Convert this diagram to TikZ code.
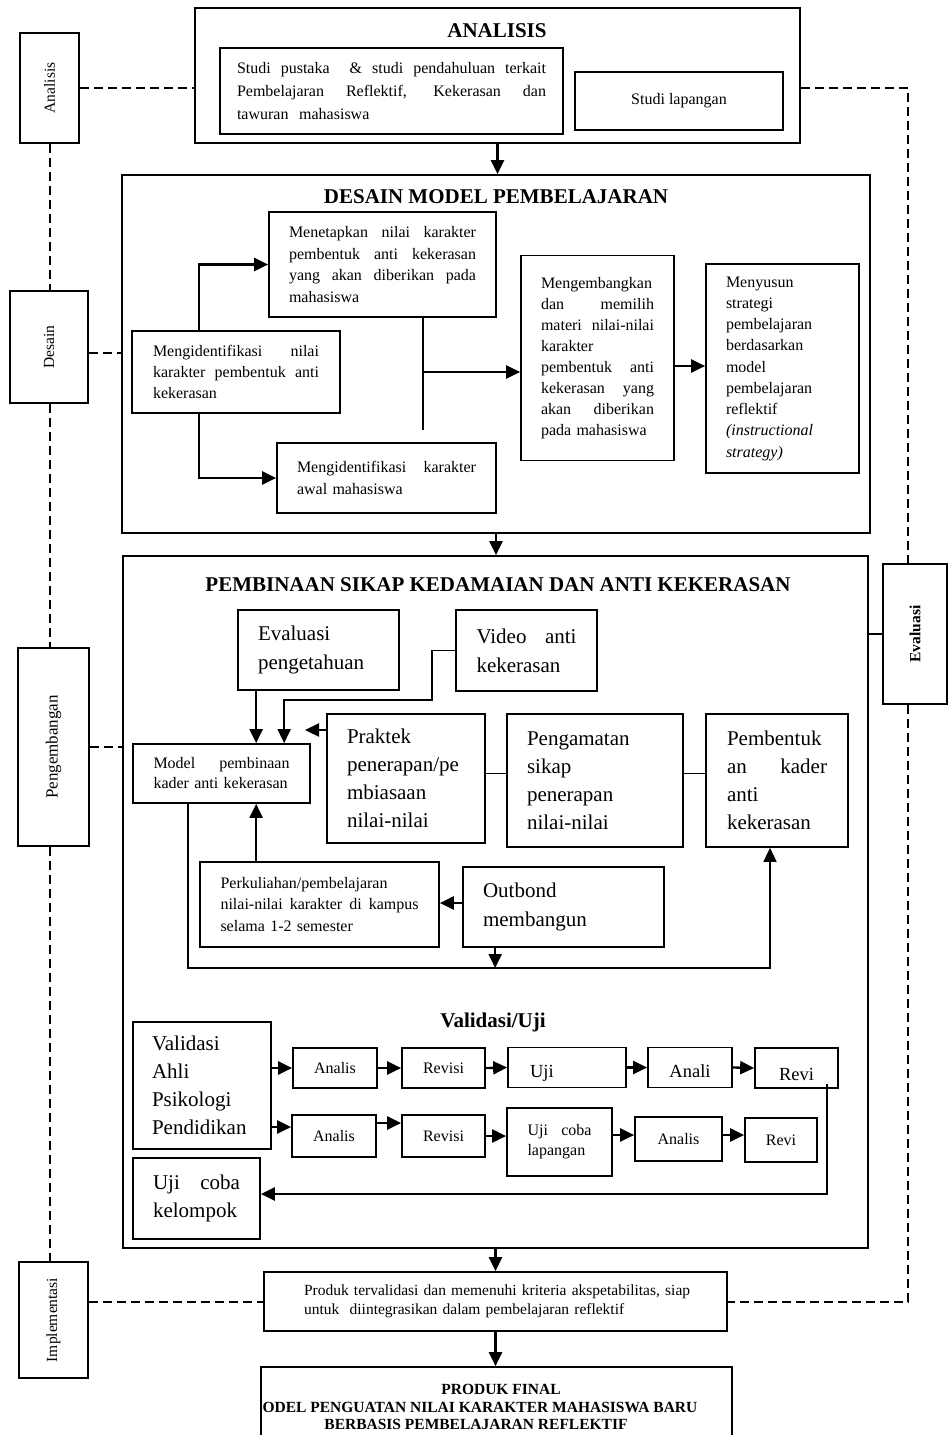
\documentclass[tikz,border=0pt]{standalone}
\usepackage{fontspec}
\setmainfont{Liberation Serif}
\usepackage{tikz}
\usetikzlibrary{
	positioning,
	arrows.meta
}

\newcommand{\jl}[1]{{\spaceskip=.25em plus 10em\relax\makebox[\hsize][s]{#1}}}
\newcommand{\fs}[2]{\fontsize{#1}{#2}\selectfont}

\tikzset{
	box/.style={draw, line width=1.7pt, rectangle, inner sep=0pt, align=left},
	cell/.style={box, font=\fs{16}{19}, align=center},
	side/.style={draw, line width=1.7pt, inner sep=0pt, font=\fs{15.5}{18}},
	sz/.style 2 args={minimum width=#1, minimum height=#2},
	head/.style={inner sep=0pt, font=\bfseries\fs{21}{25}},
	fbold/.style={inner sep=0pt, font=\bfseries\fs{15.5}{17}},
	arr/.style={line width=2.3pt, -{Triangle[length=14pt,width=13pt]}},
	arrT/.style={line width=1.7pt, -{Triangle[length=14pt,width=13pt]}},
	link/.style={line width=1.7pt},
	dashline/.style={line width=2pt, dash pattern=on 9pt off 5pt}
}

\begin{document}
\begin{tikzpicture}[x=1pt, y=-1pt]
		\fill[white] (0,0) rectangle (949,1435);
		\path[use as bounding box, clip] (0,0) rectangle (949,1435);

		% analisis
		\draw
			node[box, sz={605}{135}]                                  (ana)     at (497.5,75.5) {}
			node[head]                                                (anaT)    at (497,31)     {ANALISIS}
			node[box, font=\fs{16}{23}, sz={343}{86}, text width=309] (pustaka) at (391.5,91)
				{\jl{Studi pustaka \ \& studi pendahuluan terkait}\\ \jl{Pembelajaran Reflektif, Kekerasan dan}\\ tawuran \ mahasiswa}
			node[box, font=\fs{16}{21}, sz={208}{58}, align=center]   (lapang)  at (679,101)    {Studi lapangan}
		;

		% desain
		\draw
			node[box, sz={748}{358}]                                  (des)     at (496,354)    {}
			node[head]                                                (desT)    at (496,197)    {DESAIN MODEL PEMBELAJARAN}
			node[box, font=\fs{16}{21.5}, sz={227}{105}, text width=187] (tetap) at (382.5,264.5)
				{\jl{Menetapkan nilai karakter}\\ \jl{pembentuk anti kekerasan}\\ \jl{yang akan diberikan pada}\\ mahasiswa}
			node[box, font=\fs{16}{21}, sz={208}{82}, text width=166] (idn)     at (236,372)
				{\jl{Mengidentifikasi nilai}\\ \jl{karakter pembentuk anti}\\ kekerasan}
			node[box, font=\fs{16}{22}, sz={219}{70}, text width=179] (awal)    at (386.5,478)
				{\jl{Mengidentifikasi karakter}\\ awal mahasiswa}
			node[box, font=\fs{16}{21.1}, sz={153}{205}, text width=113] (kemb) at (597.5,358)
				{Mengembangkan\\ \jl{dan memilih}\\ \jl{materi nilai-nilai}\\ karakter\\ \jl{pembentuk anti}\\ \jl{kekerasan yang}\\ \jl{akan diberikan}\\ pada mahasiswa}
			node[box, font=\fs{16}{21.25}, sz={153}{209}, text width=113] (susun) at (782.5,368.5)
				{Menyusun\\ strategi\\ pembelajaran\\ berdasarkan\\ model\\ pembelajaran\\ reflektif\\ \textit{(instructional}\\ \textit{strategy)}}
		;
		\coordinate (fork) at (422,372);
		\draw[arr]  ([xshift=68pt]idn.north west) |- (tetap.west);
		\draw[arr]  ([xshift=68pt]idn.south west) |- (awal.west);
		\draw[link] ([xshift=-74pt]tetap.south east) -- ++(0,112);
		\draw[arr]  (fork) -- (fork -| kemb.west);
		\draw[arr]  ([yshift=-8pt]kemb.east) -- ([yshift=-8pt]kemb.east -| susun.west);

		% pembinaan
		\draw
			node[box, sz={745}{692}]                                  (pemb)    at (495.5,902)  {}
			node[head]                                                (pembT)   at (498,585)    {PEMBINAAN SIKAP KEDAMAIAN DAN ANTI KEKERASAN}
			node[box, font=\fs{21}{29}, sz={161}{80}, text width=121] (evalp)   at (318.5,650)  {Evaluasi\\ pengetahuan}
			node[box, font=\fs{21}{29}, sz={141}{81}, text width=100] (video)   at (526.5,650.5) {\jl{Video anti}\\ kekerasan}
			node[box, font=\fs{16}{20}, sz={177}{59}, text width=136] (model)   at (221.5,773.5) {\jl{Model pembinaan}\\ kader anti kekerasan}
			node[box, font=\fs{21}{28}, sz={158}{129}, text width=118] (praktek) at (406,778.5) {Praktek\\ penerapan/pe\\ mbiasaan\\ nilai-nilai}
			node[box, font=\fs{21}{28}, sz={176}{133}, text width=136] (amat)   at (595,780.5)  {Pengamatan\\ sikap\\ penerapan\\ nilai-nilai}
			node[box, font=\fs{21}{28}, sz={142}{133}, text width=100] (bentuk) at (777,780.5)  {Pembentuk\\ \jl{an kader}\\ anti\\ kekerasan}
			node[box, font=\fs{16}{21.5}, sz={239}{85}, text width=198] (kuliah) at (319.5,904.5)
				{Perkuliahan/pembelajaran\\ \jl{nilai-nilai karakter di kampus}\\ selama 1-2 semester}
			node[box, font=\fs{21}{29}, sz={201}{80}, text width=161] (outb)    at (563.5,907)  {Outbond\\ membangun}
		;
		\coordinate (vbend) at (432,700);
		\coordinate (ptip)  at (305,730);
		\coordinate (loopR) at (770,968);
		\draw[arr]  ([xshift=19pt]evalp.south west) -- ([xshift=19pt]evalp.south west |- model.north);
		\draw[arrT] (video.west) -| (vbend) -| ([xshift=152pt]model.north west);
		\draw[arr]  (ptip -| praktek.west) -- (ptip);
		\draw[link] ([yshift=5pt]praktek.east) -- ([yshift=5pt]praktek.east -| amat.west);
		\draw[link] ([yshift=7pt]amat.east) -- ([yshift=7pt]amat.east -| bentuk.west);
		\draw[arr]  ([xshift=57pt]kuliah.north west) -- ([xshift=57pt]kuliah.north west |- model.south);
		\draw[arr]  ([yshift=4pt]outb.west) -- ([yshift=4pt]outb.west -| kuliah.east);
		\draw[arrT] ([xshift=56pt]model.south west) |- (loopR) -- (loopR |- bentuk.south);
		\draw[arr]  ([xshift=33pt]outb.south west) -- ([xshift=33pt]outb.south west |- loopR);

		% validasi / uji
		\draw
			node[head]                                                (valT)    at (493,1022)   {Validasi/Uji}
			node[box, font=\fs{21}{28}, sz={138}{127}, text width=100] (ahli)   at (202,1085.5) {Validasi\\ Ahli\\ Psikologi\\ Pendidikan}
			node[cell, sz={84}{40}]                                   (an1)     at (335,1068)   {Analis}
			node[cell, sz={83}{40}]                                   (rv1)     at (443.5,1068) {Revisi}
			node[cell, font=\fs{18.5}{22}, sz={118}{40}, text width=74, align=left, text height=20pt, text depth=0pt] (uj1) at (567,1067.5) {Uji}
			node[cell, font=\fs{18.5}{22}, sz={84}{40}, text height=20pt, text depth=0pt]  (an1b) at (690,1067.5) {Anali}
			node[cell, font=\fs{18.5}{22}, sz={83}{40}, text height=24pt, text depth=0pt]  (rv1b) at (796.5,1068) {Revi}
			node[cell, sz={84}{42}]                                   (an2)     at (334,1136)   {Analis}
			node[cell, sz={83}{42}]                                   (rv2)     at (443.5,1136) {Revisi}
			node[cell, font=\fs{16}{20}, sz={105}{68}, text width=64, align=left] (uj2) at (559.5,1142) {\jl{Uji coba}\\ lapangan}
			node[cell, sz={87}{44}]                                   (an2b)    at (678.5,1139) {Analis}
			node[cell, sz={72}{44}]                                   (rv2b)    at (781,1140)   {Revi}
			node[box, font=\fs{21}{28}, sz={127}{81}, text width=87]  (kel)     at (196.5,1198.5) {\jl{Uji coba}\\ kelompok}
		;
		\draw[arr] (ahli.east |- an1.west) -- (an1.west);
		\draw[arr] (an1.east) -- (rv1.west);
		\draw[arr] (rv1.east) -- (uj1.west);
		\draw[arr] (uj1.east) -- (an1b.west);
		\draw[arr] (an1b.east) -- (rv1b.west);
		\draw[arr] ([yshift=9pt]ahli.east |- an2.west) -- ([yshift=9pt]an2.west);
		\draw[arr] ([yshift=13pt]an2.east) -- ([yshift=13pt]rv2.west);
		\draw[arr] (rv2.east) -- (rv2.east -| uj2.west);
		\draw[arr] ([yshift=4pt]uj2.east |- an2b.west) -- ([yshift=4pt]an2b.west);
		\draw[arr] ([yshift=4pt]an2b.east) -- ([yshift=4pt]an2b.east -| rv2b.west);
		\draw[arr] ([xshift=30.5pt,yshift=5pt]rv1b.south) |- ([yshift=4.5pt]kel.east);

		% produk
		\draw
			node[box, font=\fs{15.5}{19}, sz={463}{59}, text width=383] (prod)  at (495.5,1301.5)
				{\mbox{Produk tervalidasi dan memenuhi kriteria akspetabilitas, siap}\\ \mbox{untuk \ diintegrasikan dalam pembelajaran reflektif}}
			node[box, sz={471}{90}]                                   (fin)     at (496.5,1412) {}
			node[fbold]                                               (fin1)    at (501,1389)   {PRODUK FINAL}
			node[fbold]                                               (fin2)    at (480,1407)   {ODEL PENGUATAN NILAI KARAKTER MAHASISWA BARU}
			node[fbold]                                               (fin3)    at (476,1424)   {BERBASIS PEMBELAJARAN REFLEKTIF}
		;
		\draw[arr] (ana.south) -- (ana.south |- des.north);
		\draw[arr] (des.south) -- (des.south |- pemb.north);
		\draw[arr] (pemb.south) -- (pemb.south |- prod.north);
		\draw[arr] (prod.south) -- (prod.south |- fin.north);

		% tahapan
		\draw
			node[side, sz={59}{110}]                                  (anaL)    at (49.5,88)    {\rotatebox{90}{Analisis}}
			node[side, sz={78}{112}]                                  (desL)    at (49,347)     {\rotatebox{90}{Desain}}
			node[side, sz={71}{198}, font=\fs{17}{20}]                (pengL)   at (53.5,747)   {\rotatebox{90}{Pengembangan}}
			node[side, sz={69}{116}]                                  (impL)    at (53.5,1320)  {\rotatebox{90}{Implementasi}}
			node[side, sz={64}{140}, font=\bfseries\fs{15.5}{18}]     (evalR)   at (915,634)    {\rotatebox{90}{Evaluasi}}
		;
		\coordinate (rtop) at (908,88);
		\draw[dashline] (anaL.south) -- (anaL.south |- desL.north);
		\draw[dashline] (desL.south -| anaL.south) -- (anaL.south |- pengL.north);
		\draw[dashline] (pengL.south -| anaL.south) -- (anaL.south |- impL.north);
		\draw[dashline] (anaL.east) -- (anaL.east -| ana.west);
		\draw[dashline] ([yshift=-6pt]desL.east) -- ([yshift=-6pt]desL.east -| des.west);
		\draw[dashline] (pengL.east) -- (pengL.east -| pemb.west);
		\draw[dashline] (impL.east |- prod.west) -- (prod.west);
		\draw[dashline] (anaL.east -| ana.east) -- (rtop) -- (rtop |- evalR.north);
		\draw[dashline] (rtop |- evalR.south) |- (prod.east);
		\draw[link] (pemb.east |- evalR.west) -- (evalR.west);
    \end{tikzpicture}
\end{document}
